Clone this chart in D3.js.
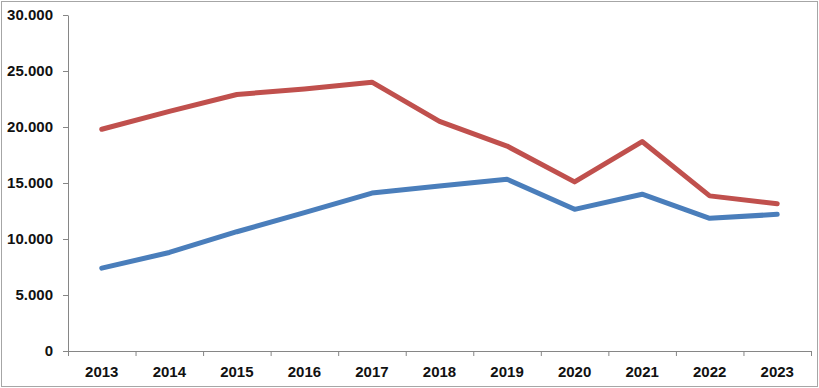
<!DOCTYPE html>
<html>
<head>
<meta charset="utf-8">
<script src="https://cdn.jsdelivr.net/npm/d3@7"></script>
<style>
  body { margin: 0; background: #fff; }
  .axis text { font-family: "Liberation Sans", Arial, sans-serif; font-size: 15px; font-weight: bold; fill: #111; }
  .axis path, .axis line { stroke: #868686; }
</style>
</head>
<body>
<div id="chart"></div>
<script>
var years = ["2013", "2014", "2015", "2016", "2017", "2018", "2019", "2020", "2021", "2022", "2023"];
var redValues = [19800, 21400, 22900, 23400, 24000, 20500, 18300, 15100, 18700, 13850, 13150];
var blueValues = [7400, 8800, 10650, 12350, 14100, 14730, 15330, 12650, 14000, 11850, 12200];
var yTicks = [0, 5000, 10000, 15000, 20000, 25000, 30000];

var W = 819, H = 388;
var margin = {top: 15, right: 8, bottom: 37, left: 68};
var width = W - margin.left - margin.right,
    height = H - margin.top - margin.bottom;

var svg = d3.select("#chart").append("svg")
    .attr("width", W)
    .attr("height", H);

// outer frame
svg.append("rect")
    .attr("x", 1.5).attr("y", 1.5)
    .attr("width", W - 3).attr("height", H - 3)
    .attr("fill", "none")
    .attr("stroke", "#a6a6a6");

var main = svg.append("g")
    .attr("transform", "translate(" + margin.left + "," + margin.top + ")");

var x = d3.scaleBand().domain(years).range([0, width]);
var y = d3.scaleLinear().domain([0, 30000]).range([height, 0]);

var fmt = function(v) { return v === 0 ? "0" : d3.format(",")(v).replace(/,/g, "."); };

// y axis
var yAxis = main.append("g")
    .attr("class", "axis")
    .call(d3.axisLeft(y).tickValues(yTicks).tickFormat(fmt).tickSize(5).tickSizeOuter(0));
yAxis.selectAll("text").attr("x", -15);

// x axis with ticks at band edges
var xAxis = main.append("g")
    .attr("class", "axis")
    .attr("transform", "translate(0," + height + ")")
    .call(d3.axisBottom(x).tickSize(0).tickSizeOuter(0));
xAxis.selectAll("text").attr("dy", "1.55em");
xAxis.selectAll(".edge")
    .data(years.concat(["end"]))
    .enter().append("line")
    .attr("class", "edge")
    .attr("x1", function(d, i) { return i * x.bandwidth() + 0.5; })
    .attr("x2", function(d, i) { return i * x.bandwidth() + 0.5; })
    .attr("y1", 0).attr("y2", 5);

var line = d3.line()
    .x(function(d, i) { return x(years[i]) + x.bandwidth() / 2; })
    .y(function(d) { return y(d); });

main.append("path")
    .datum(redValues)
    .attr("d", line)
    .attr("fill", "none")
    .attr("stroke", "#C0504D")
    .attr("stroke-width", 5)
    .attr("stroke-linecap", "round")
    .attr("stroke-linejoin", "round");

main.append("path")
    .datum(blueValues)
    .attr("d", line)
    .attr("fill", "none")
    .attr("stroke", "#4A7EBB")
    .attr("stroke-width", 5)
    .attr("stroke-linecap", "round")
    .attr("stroke-linejoin", "round");
</script>
</body>
</html>
